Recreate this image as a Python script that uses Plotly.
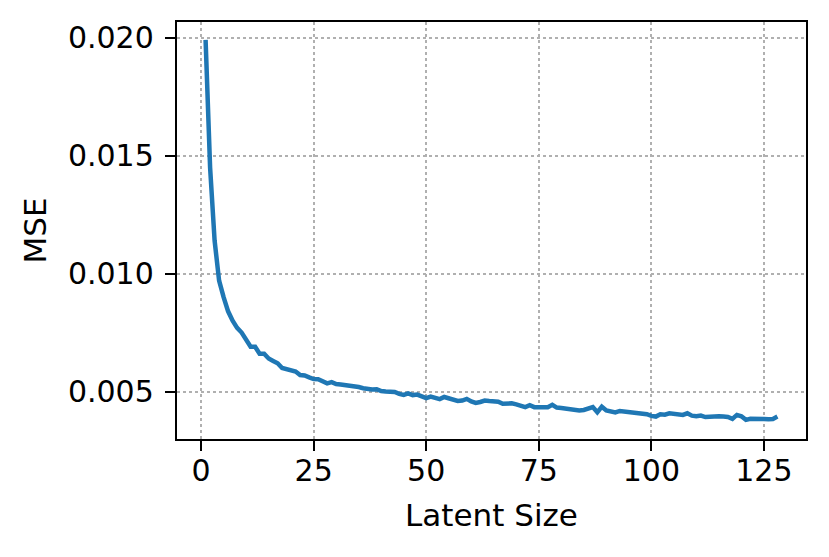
# MSE against latent size
import plotly.graph_objects as go

latent_size = list(range(1, 129))
mse = [
    0.0199, 0.0145, 0.0114, 0.0097, 0.0090, 0.0084, 0.0080, 0.0077, 0.0075, 0.0072,
    0.0069, 0.0069, 0.0066, 0.0066, 0.0064, 0.0063, 0.0062, 0.0060, 0.00595, 0.0059,
    0.00585, 0.0057, 0.00568, 0.0056, 0.00553, 0.00552, 0.00545, 0.00535, 0.0054, 0.00532,
    0.0053, 0.00528, 0.00526, 0.00522, 0.00519, 0.00514, 0.0051, 0.00509, 0.0051, 0.00502,
    0.0050, 0.00499, 0.00498, 0.0049, 0.00486, 0.00492, 0.00485, 0.00487, 0.0048, 0.00472,
    0.00479, 0.00472, 0.00468, 0.00477, 0.00472, 0.00465, 0.0046, 0.00462, 0.00469, 0.00458,
    0.00452, 0.00456, 0.00462, 0.0046, 0.00459, 0.00457, 0.00448, 0.00449, 0.0045, 0.00446,
    0.00438, 0.00434, 0.00442, 0.00434, 0.00434, 0.00433, 0.00434, 0.00444, 0.00432, 0.0043,
    0.00428, 0.00426, 0.00421, 0.0042, 0.00422, 0.00426, 0.00434, 0.00412, 0.00436, 0.0042,
    0.00416, 0.00412, 0.00418, 0.00416, 0.00412, 0.00413, 0.0041, 0.00408, 0.00404, 0.00397,
    0.00394, 0.00404, 0.00402, 0.00408, 0.00405, 0.00403, 0.00401, 0.00408, 0.00398, 0.00395,
    0.00398, 0.00392, 0.00394, 0.00397, 0.00395, 0.00394, 0.00392, 0.00384, 0.00401, 0.00395,
    0.0038, 0.00385, 0.00386, 0.00384, 0.00384, 0.00383, 0.00384, 0.00394,
]

x_ticks = [0, 25, 50, 75, 100, 125]
y_ticks = [0.005, 0.010, 0.015, 0.020]
y_tick_labels = ["0.005", "0.010", "0.015", "0.020"]

fig = go.Figure(
    data=[go.Scatter(x=latent_size, y=mse, mode="lines",
                     line=dict(color="#1f77b4", width=4.5))]
)

axis_common = dict(
    showline=True, linecolor="black", linewidth=2.4, mirror=True,
    ticks="outside", ticklen=10, tickwidth=2.4, tickcolor="black",
    showgrid=True, gridcolor="#b0b0b0", gridwidth=2, griddash="dot",
    zeroline=False, tickfont=dict(size=30),
)

fig.update_layout(
    width=829, height=557,
    margin=dict(l=169, r=31, t=14, b=126),
    paper_bgcolor="white", plot_bgcolor="white",
    font=dict(family="DejaVu Sans", size=30, color="black"),
    showlegend=False,
    xaxis=dict(title=dict(text="Latent Size", standoff=17, font=dict(size=31)),
               range=[-5.35, 134.35], tickvals=x_ticks, ticklabelstandoff=-6,
               **axis_common),
    yaxis=dict(title=dict(text="MSE", standoff=12, font=dict(size=31)),
               range=[0.00299, 0.02066], tickvals=y_ticks, ticklabelstandoff=5,
               ticktext=y_tick_labels, **axis_common),
)

fig.write_html("out.html")
